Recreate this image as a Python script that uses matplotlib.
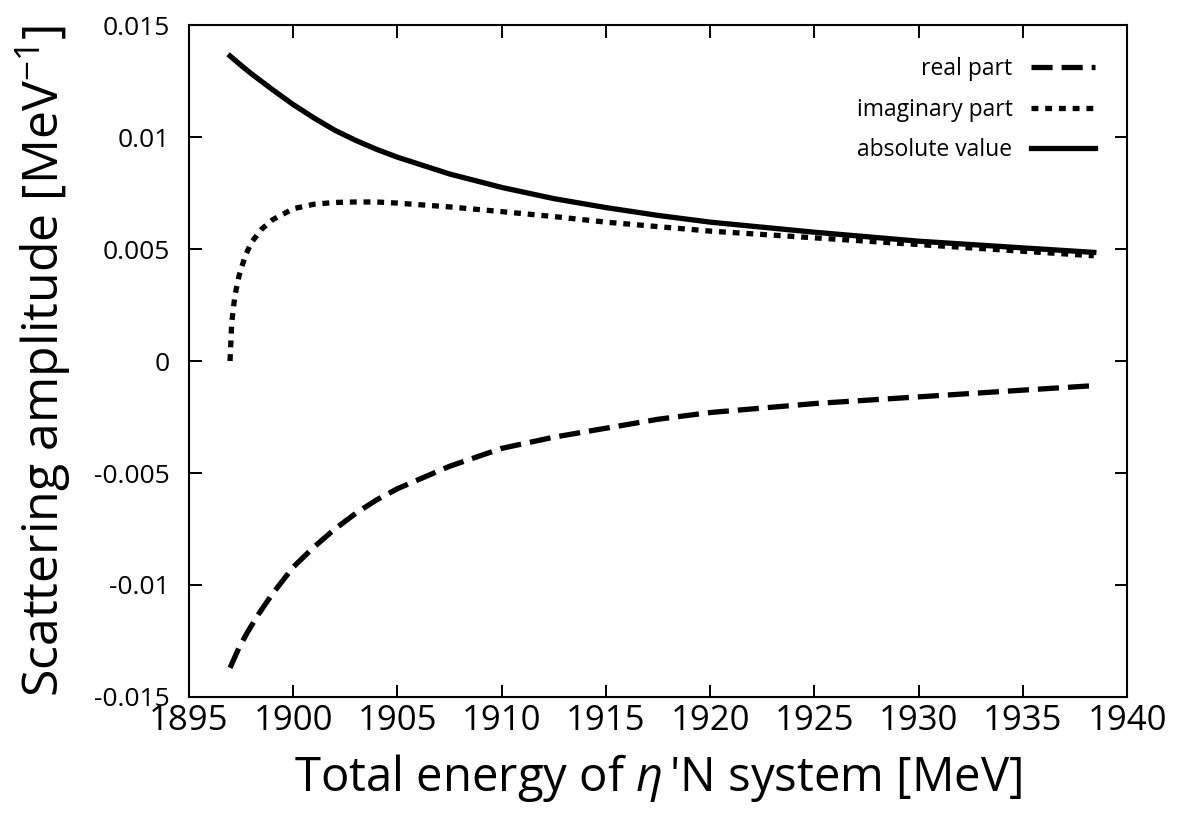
import numpy as np
import matplotlib
matplotlib.use("Agg")
import matplotlib.pyplot as plt

plt.rcParams["mathtext.fontset"] = "custom"
plt.rcParams["mathtext.rm"] = "Open Sans"
plt.rcParams["mathtext.it"] = "Open Sans:italic"

# values (energy in MeV, amplitude in MeV^-1)
x_real = [1896.97, 1897.4, 1897.8, 1898.3, 1899, 1900, 1901, 1902, 1903,
          1904, 1905, 1907.5, 1910, 1912.5, 1915, 1917.5, 1920, 1925, 1930,
          1935, 1938.4]
real_part = [-0.0137, -0.0128, -0.01212, -0.01135, -0.0104, -0.0092, -0.0083,
             -0.0075, -0.0068, -0.0062, -0.0057, -0.0047, -0.0039, -0.0034,
             -0.0030, -0.0026, -0.0023, -0.0019, -0.0016, -0.0013, -0.0011]

x_imag = [1896.97, 1897.05, 1897.2, 1897.4, 1897.7, 1898, 1898.5, 1899, 1900,
          1901, 1902, 1903, 1904, 1905, 1907.5, 1910, 1912.5, 1915, 1917.5,
          1920, 1925, 1930, 1935, 1938.4]
imag_part = [0.0, 0.0017, 0.0029, 0.0038, 0.0047, 0.0053, 0.0059, 0.0063,
             0.0068, 0.0070, 0.00708, 0.0071, 0.0071, 0.00705, 0.00688,
             0.00667, 0.00645, 0.0062, 0.0060, 0.0058, 0.0055, 0.0052,
             0.0049, 0.0047]

x_abs = [1896.97, 1897.5, 1898, 1899, 1900, 1901, 1902, 1903, 1904, 1905,
         1907.5, 1910, 1912.5, 1915, 1917.5, 1920, 1925, 1930, 1935, 1938.4]
abs_value = [0.01362, 0.01320, 0.01282, 0.01212, 0.01145, 0.01085, 0.01030,
             0.00985, 0.00945, 0.00910, 0.00835, 0.00775, 0.00725, 0.00685,
             0.00650, 0.00620, 0.00575, 0.00535, 0.00505, 0.00485]

fig = plt.figure(figsize=(11.84, 8.13), dpi=100)
ax = fig.add_axes([0.1596, 0.1427, 0.7924, 0.8265])

lw = 3.8
ax.plot(x_real, real_part, color="black", lw=lw, dashes=(4, 1.7),
        label="real part")
ax.plot(x_imag, imag_part, color="black", lw=lw, dashes=(1.3, 1.3),
        label="imaginary part")
ax.plot(x_abs, abs_value, color="black", lw=lw, label="absolute value")

ax.set_xlim(1895, 1940)
ax.set_ylim(-0.015, 0.015)
ax.set_xticks(np.arange(1895, 1941, 5))
ax.set_xticklabels([str(v) for v in range(1895, 1941, 5)],
                   family="Open Sans", fontsize=25)
ax.set_yticks([-0.015, -0.01, -0.005, 0, 0.005, 0.01, 0.015])
ax.set_yticklabels(["-0.015", "-0.01", "-0.005", "0", "0.005", "0.01", "0.015"],
                   family="Open Sans", fontsize=19)

ax.tick_params(direction="in", length=9, width=1.4, top=True, right=True)
ax.tick_params(axis="x", pad=5)
ax.tick_params(axis="y", pad=14)
for sp in ax.spines.values():
    sp.set_linewidth(1.5)

ax.set_xlabel(r"Total energy of $\eta\,$'N system [MeV]",
              family="Open Sans", fontsize=34, labelpad=10)
ax.set_ylabel(r"Scattering amplitude [MeV$^{-1}$]",
              family="Open Sans", fontsize=36, labelpad=14)

ax.legend(loc="upper right", frameon=False, markerfirst=False,
          prop={"family": "Open Sans", "size": 16.5}, handlelength=2.8,
          labelspacing=0.72, borderaxespad=1.0)

fig.savefig("out.png", dpi=100)
